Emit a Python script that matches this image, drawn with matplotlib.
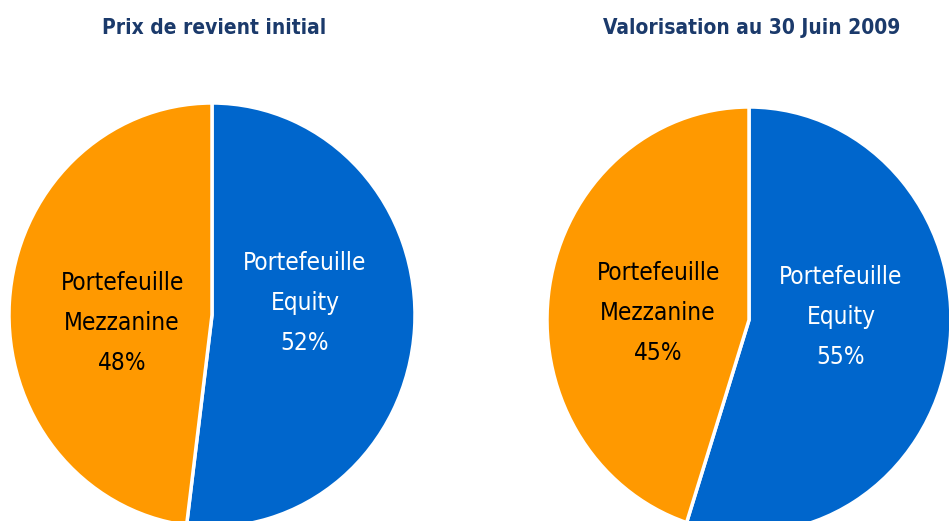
import matplotlib
matplotlib.use("Agg")
import matplotlib.pyplot as plt

# Données
titles = ["Prix de revient initial", "Valorisation au 30 Juin 2009"]
labels = ["Portefeuille\nEquity", "Portefeuille\nMezzanine"]
shares_initial = [52, 48]
shares_june = [55, 45]

COLORS = ["#0066CC", "#FF9900"]
TEXT_COLORS = ["white", "black"]
TITLE_COLOR = "#1B3A6B"
FONT = ["DejaVu Sans"]

W, H = 949, 521
fig = plt.figure(figsize=(W / 100, H / 100), dpi=100)

# centre (px), rayon horizontal, rayon vertical, positions des textes
pies = [
    {"shares": shares_initial, "cx": 212, "cy": 315, "rx": 203, "ry": 212,
     "pos": [(0.458, 0.057), (-0.443, -0.038)], "title_x": 214},
    {"shares": shares_june, "cx": 749, "cy": 320, "rx": 202, "ry": 213,
     "pos": [(0.455, 0.014), (-0.45, 0.033)], "title_x": 752},
]

for title, p in zip(titles, pies):
    ax = fig.add_axes([0, 0, 1, 1])
    ax.patch.set_alpha(0)
    ax.pie(p["shares"], colors=COLORS, startangle=90, counterclock=False,
           wedgeprops={"edgecolor": "white", "linewidth": 2.5})
    ax.set_aspect("auto")
    ax.set_xlim(-p["cx"] / p["rx"], (W - p["cx"]) / p["rx"])
    ax.set_ylim((p["cy"] - H) / p["ry"], p["cy"] / p["ry"])
    ax.axis("off")
    for lab, val, (x, y), tc in zip(labels, p["shares"], p["pos"], TEXT_COLORS):
        ax.text(x, y, f"{lab}\n{val}%", ha="center", va="center", color=tc,
                fontsize=17.5, linespacing=1.85, family=FONT,
                fontstretch="condensed")
    fig.text(p["title_x"] / W, 1 - 28 / H, title, ha="center", va="center",
             color=TITLE_COLOR, fontsize=15, fontweight="bold", family=FONT,
             fontstretch="condensed")

fig.savefig("out.png", dpi=100)
